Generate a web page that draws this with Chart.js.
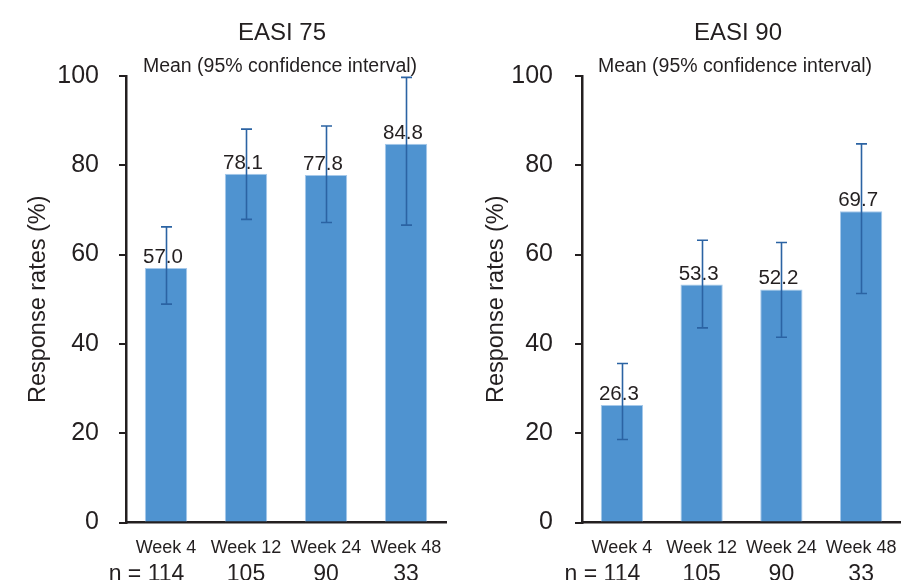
<!DOCTYPE html>
<html>
<head>
<meta charset="utf-8">
<script src="https://cdn.jsdelivr.net/npm/chart.js@4.4.1/dist/chart.umd.min.js"></script>
<style>
  html, body { margin: 0; padding: 0; background: #ffffff; overflow: hidden; }
  #wrap { position: relative; width: 901px; height: 580px; overflow: hidden; }
  canvas { position: absolute; top: 0; }
  #c1 { left: 0; }
  #c2 { left: 450px; }
</style>
</head>
<body>
<div id="wrap">
  <canvas id="c1" width="460" height="580"></canvas>
  <canvas id="c2" width="465" height="580"></canvas>
</div>
<script>
// ---- data ----
const categories = ['Week 4', 'Week 12', 'Week 24', 'Week 48'];
const nValues = [114, 105, 90, 33];
const yTicks = [0, 20, 40, 60, 80, 100];

const easi75 = [57.0, 78.1, 77.8, 84.8];
const easi75Lo = [48.9, 67.9, 67.2, 66.6];
const easi75Hi = [66.2, 88.1, 88.8, 99.7];

const easi90 = [26.3, 53.3, 52.2, 69.7];
const easi90Lo = [18.6, 43.6, 41.5, 51.3];
const easi90Hi = [35.6, 63.2, 62.7, 84.8];

const titles = ['EASI 75', 'EASI 90'];
const subtitleText = 'Mean (95% confidence interval)';
const yTitle = 'Response rates (%)';

// ---- styles ----
const FONT = "'Liberation Sans', Arial, sans-serif";
const TEXT = '#231f20';
const BAR = '#4f93d0';
const BAR_EDGE = '#a6c9ea';
const ERR = '#2b63a3';

function makePlugin(values, lo, hi, title, cfg) {
  return {
    id: 'custom' + title.replace(/\W/g, ''),
    afterDatasetsDraw(chart) {
      const ctx = chart.ctx;
      const meta = chart.getDatasetMeta(0);
      const ys = chart.scales.y;
      ctx.save();
      // value labels
      ctx.font = '20.5px ' + FONT;
      ctx.fillStyle = TEXT;
      ctx.textAlign = 'center';
      ctx.textBaseline = 'alphabetic';
      meta.data.forEach((bar, i) => {
        ctx.fillText(values[i].toFixed(1), bar.x - 3, bar.y - 5);
      });
      // error bars
      ctx.strokeStyle = ERR;
      ctx.lineWidth = 1.6;
      meta.data.forEach((bar, i) => {
        const yl = ys.getPixelForValue(lo[i]);
        const yh = ys.getPixelForValue(hi[i]);
        const x = Math.round(bar.x) + 0.5;
        ctx.beginPath();
        ctx.moveTo(x, yl); ctx.lineTo(x, yh);
        ctx.moveTo(x - 5.5, yl); ctx.lineTo(x + 5.5, yl);
        ctx.moveTo(x - 5.5, yh); ctx.lineTo(x + 5.5, yh);
        ctx.stroke();
      });
      ctx.restore();
    },
    afterDraw(chart) {
      const ctx = chart.ctx;
      const meta = chart.getDatasetMeta(0);
      ctx.save();
      ctx.fillStyle = TEXT;
      ctx.textAlign = 'center';
      ctx.textBaseline = 'middle';
      ctx.font = '24px ' + FONT;
      ctx.fillText(title, cfg.titleX, 33);
      ctx.font = '19.5px ' + FONT;
      ctx.fillText(subtitleText, cfg.subX, 67);
      // n row
      ctx.font = '23px ' + FONT;
      meta.data.forEach((bar, i) => {
        ctx.textAlign = 'center';
        const s = String(nValues[i]);
        ctx.fillText(s, bar.x, 575);
        if (i === 0) {
          const w = ctx.measureText(s).width;
          ctx.textAlign = 'right';
          ctx.fillText('n = ', bar.x - w / 2, 575);
        }
      });
      ctx.restore();
    }
  };
}

function makeChart(id, values, lo, hi, title, cfg) {
  return new Chart(document.getElementById(id), {
    type: 'bar',
    data: {
      labels: categories,
      datasets: [{
        data: values,
        backgroundColor: BAR,
        borderColor: BAR_EDGE,
        borderWidth: 1,
        barPercentage: 0.53,
        categoryPercentage: 1.0
      }]
    },
    options: {
      responsive: false,
      animation: false,
      devicePixelRatio: 1,
      layout: { padding: { top: 76, right: cfg.padRight, left: 0, bottom: 0 } },
      plugins: { legend: { display: false }, tooltip: { enabled: false } },
      scales: {
        x: {
          offset: true,
          grid: { display: false, drawTicks: false },
          border: { display: true, color: TEXT, width: 2.5 },
          ticks: {
            color: TEXT,
            font: { family: FONT, size: 18 },
            padding: 15,
            maxRotation: 0,
            autoSkip: false
          },
          afterFit(scale) { scale.height = 57.5; }
        },
        y: {
          min: 0,
          max: 100,
          afterBuildTicks(scale) { scale.ticks = yTicks.map(v => ({ value: v })); },
          grid: {
            display: true,
            drawOnChartArea: false,
            drawTicks: true,
            tickLength: 7,
            color: TEXT,
            lineWidth: 2
          },
          border: { display: true, color: TEXT, width: 2.5 },
          ticks: {
            color: TEXT,
            font: { family: FONT, size: 25 },
            padding: cfg.tickPad
          },
          title: {
            display: true,
            text: yTitle,
            color: TEXT,
            font: { family: FONT, size: 23.5 },
            padding: { top: cfg.titlePad, bottom: 0 }
          },
          afterFit(scale) { scale.width = cfg.axisW; }
        }
      }
    },
    plugins: [makePlugin(values, lo, hi, title, cfg)]
  });
}

makeChart('c1', easi75, easi75Lo, easi75Hi, titles[0],
  { axisW: 126, padRight: 14, tickPad: 20, titlePad: 24, titleX: 282, subX: 280 });
makeChart('c2', easi90, easi90Lo, easi90Hi, titles[1],
  { axisW: 132, padRight: 14, tickPad: 22, titlePad: 32, titleX: 288, subX: 285 });
</script>
</body>
</html>
